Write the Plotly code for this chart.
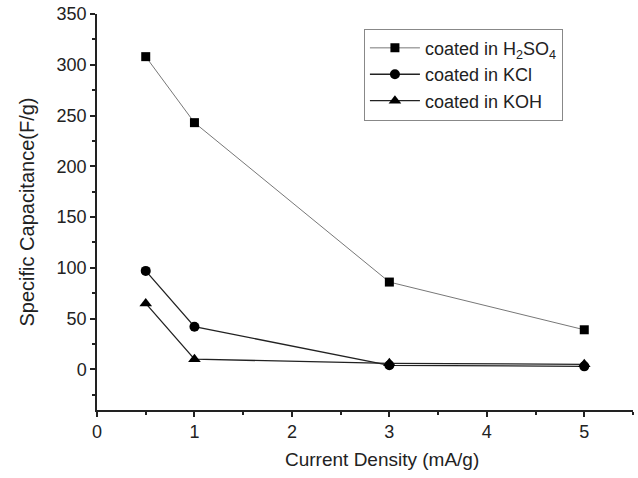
import plotly.graph_objects as go

x_vals = [0.5, 1, 3, 5]
h2so4 = [308, 243, 86, 39]
kcl = [97, 42, 4, 3]
koh = [65, 10, 6, 5]
names = ["coated in H<sub>2</sub>SO<sub>4</sub>", "coated in KCl", "coated in KOH"]
x_ticks = [0, 1, 2, 3, 4, 5]
y_ticks = [0, 50, 100, 150, 200, 250, 300, 350]

fig = go.Figure()
fig.add_trace(go.Scatter(x=x_vals, y=h2so4, name=names[0], mode="lines+markers",
                         line=dict(color="#777777", width=1),
                         marker=dict(symbol="square", size=9, color="black")))
fig.add_trace(go.Scatter(x=x_vals, y=kcl, name=names[1], mode="lines+markers",
                         line=dict(color="#222222", width=1.3),
                         marker=dict(symbol="circle", size=10, color="black")))
fig.add_trace(go.Scatter(x=x_vals, y=koh, name=names[2], mode="lines+markers",
                         line=dict(color="#222222", width=1.3),
                         marker=dict(symbol="triangle-up", size=11, color="black")))

font = "Liberation Sans, Arial, sans-serif"
fig.update_layout(
    width=638, height=478,
    margin=dict(l=97, r=5, t=14, b=68),
    paper_bgcolor="white", plot_bgcolor="white",
    font=dict(family=font, size=18, color="#222222"),
    showlegend=True,
    legend=dict(x=0.498, y=0.963, xanchor="left", yanchor="top",
                bordercolor="#888888", borderwidth=1, bgcolor="white",
                font=dict(size=18), tracegroupgap=0, itemwidth=50),
    xaxis=dict(range=[0, 5.5], tickvals=x_ticks, ticks="outside", automargin=False,
               ticklen=5, tickwidth=1.5, tickcolor="#222222",
               showline=True, linecolor="#222222", linewidth=1.5,
               showgrid=False, zeroline=False,
               minor=dict(tickvals=[0.5, 1.5, 2.5, 3.5, 4.5, 5.5], ticks="outside", ticklen=3,
                          tickwidth=1.5, tickcolor="#222222", showgrid=False)),
    yaxis=dict(range=[-40, 350], tickvals=y_ticks, ticks="outside", automargin=False,
               ticklen=5, tickwidth=1.5, tickcolor="#222222",
               showline=True, linecolor="#222222", linewidth=1.5,
               showgrid=False, zeroline=False,
               minor=dict(tickvals=[-25, 25, 75, 125, 175, 225, 275, 325], ticks="outside", ticklen=3,
                          tickwidth=1.5, tickcolor="#222222", showgrid=False),
               title=dict(text="Specific Capacitance(F/g)", font=dict(size=20), standoff=17)),
    annotations=[dict(text="Current Density (mA/g)", xref="paper", yref="paper",
                      x=0.532, y=-0.125, xanchor="center", yanchor="middle",
                      showarrow=False, font=dict(size=19))],
)

fig.write_html("out.html", post_script="document.body.style.margin='0';",
               config={"displayModeBar": False})
